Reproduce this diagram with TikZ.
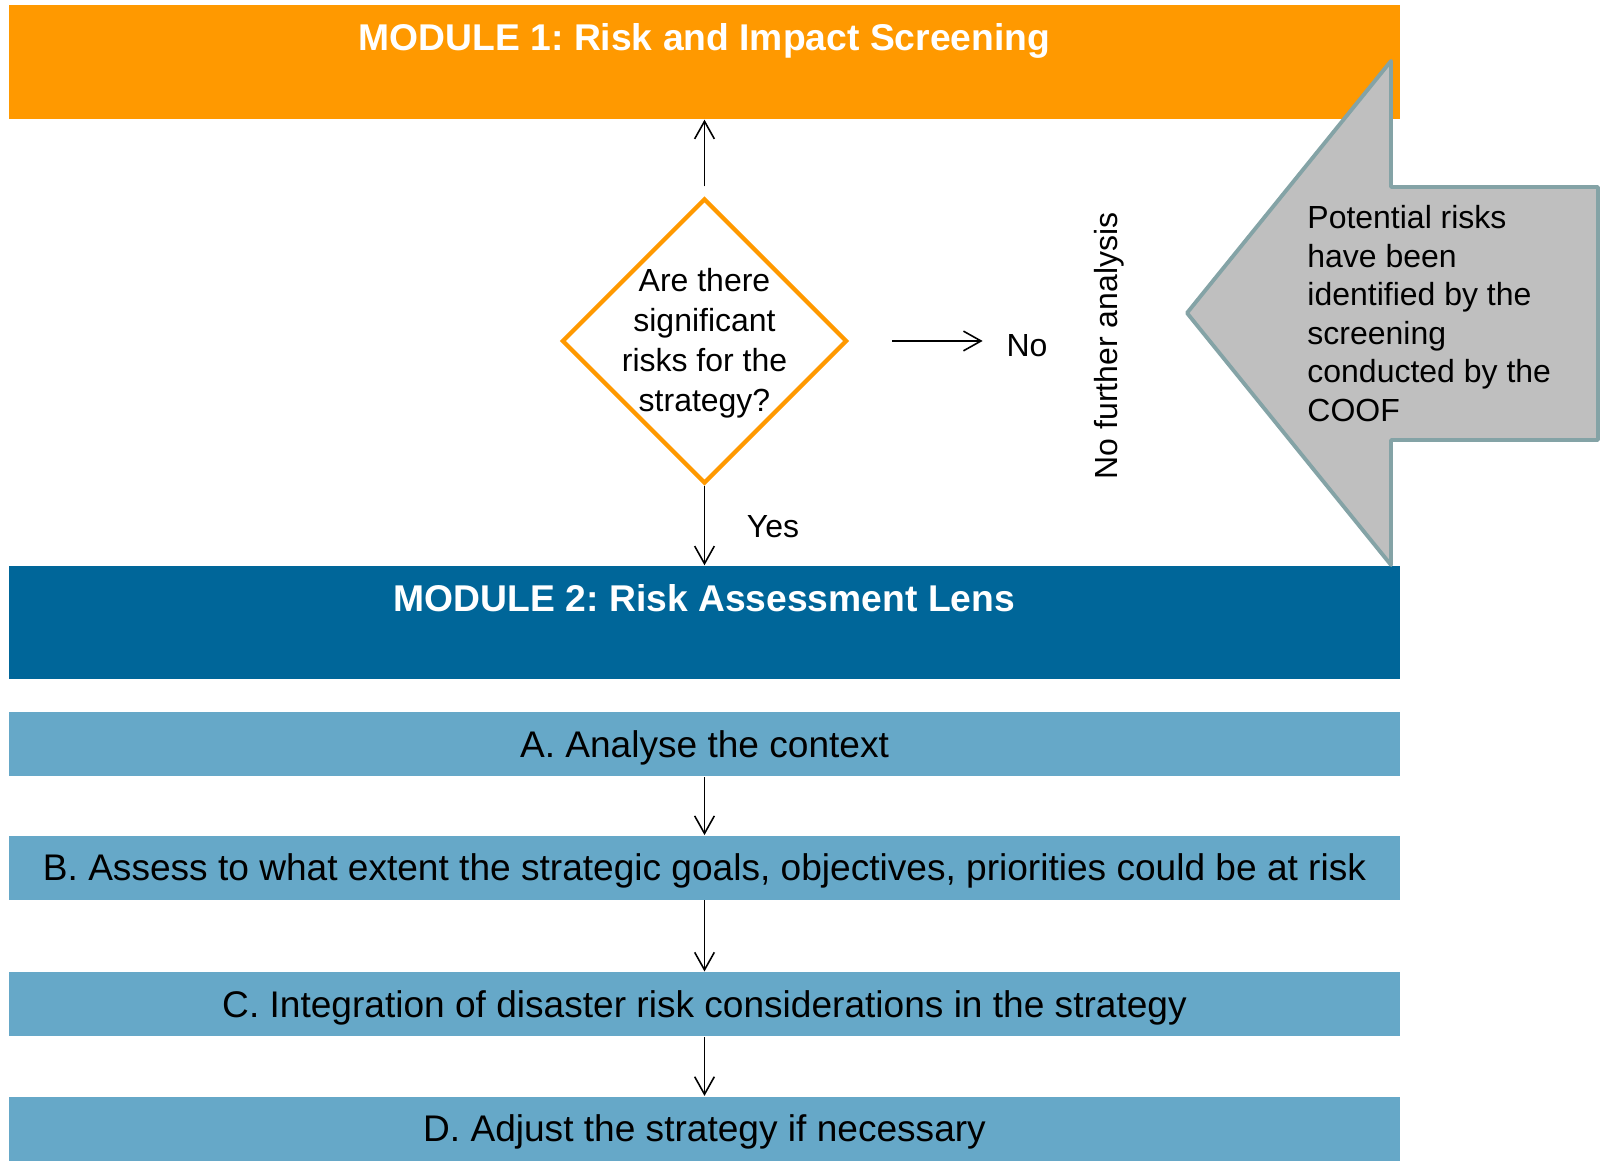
\documentclass[tikz,border=0pt]{standalone}
\usepackage{fontspec}
\setmainfont{Liberation Sans}
\usepackage{tikz}
\usetikzlibrary{arrows.meta,shapes.geometric,positioning}
\frenchspacing
\definecolor{modorange}{RGB}{255,153,0}
\definecolor{modblue}{RGB}{0,102,153}
\definecolor{steplight}{RGB}{102,168,200}
\definecolor{notegray}{RGB}{191,191,191}
\definecolor{noteedge}{RGB}{132,163,166}
\tikzset{
  module/.style={rectangle,minimum width=13.91cm,minimum height=1.14cm,inner sep=0pt},
  modtitle/.style={text=white,anchor=base,font=\fontsize{10.6}{12.7}\selectfont\bfseries},
  stepbar/.style={rectangle,fill=steplight,minimum width=13.91cm,minimum height=0.64cm,inner sep=0pt,text height=7.5pt,text depth=0pt,font=\fontsize{10.55}{12.6}\selectfont},
  decision/.style={diamond,aspect=1,draw=modorange,fill=white,line width=1.2pt,minimum width=2.85cm,minimum height=2.85cm,inner sep=0pt},
  small/.style={font=\fontsize{9.1}{11.4}\selectfont},
  arr/.style={line width=0.45pt,-{Straight Barb[length=5pt,width=5.6pt]}}
}
\begin{document}
\begin{tikzpicture}
\useasboundingbox (0,0) rectangle (16.04,11.61);
\node[module,fill=modorange] (m1) at (7.045,10.99) {};
\node[modtitle] (t1) at ([yshift=-0.46cm]m1.north) {MODULE 1: Risk and Impact Screening};
\node[module,fill=modblue,minimum height=1.13cm] (m2) at (7.045,5.385) {};
\node[modtitle] (t2) at ([yshift=-0.46cm]m2.north) {MODULE 2: Risk Assessment Lens};
\node[stepbar,below=0.32cm of m2] (a) {A. Analyse the context};
\node[stepbar,below=0.58cm of a] (b) {B. Assess to what extent the strategic goals, objectives, priorities could be at risk};
\node[stepbar,below=0.71cm of b] (c) {C. Integration of disaster risk considerations in the strategy};
\node[stepbar,below=0.59cm of c] (d) {D. Adjust the strategy if necessary};
\draw[arr] (a) -- (b);
\draw[arr] (b) -- (c);
\draw[arr] (c) -- (d);
\node[decision] (q) at (7.045,8.20) {};
\node[small,align=center] (qtext) at ([yshift=-0.02cm]q) {Are there\\significant\\risks for the\\strategy?};
\draw[arr] ([yshift=0.1cm]q.north) -- (q.north |- m1.south);
\draw[arr] (q.south) -- (q.south |- m2.north);
\node[small] (yes) at (7.73,6.34) {Yes};
\node[small] (no) at (10.27,8.15) {No};
\draw[arr] ([xshift=0.43cm]q.east) -- ([xshift=-0.115cm]no.west |- q.east);
\node[small,rotate=90] (nfa) at (11.09,8.15) {No further analysis};
\draw[fill=notegray,draw=noteedge,line width=1.1pt,line join=round] (11.87,8.48) coordinate (tip) -- (13.91,11.00) -- (13.91,9.74) -- (15.98,9.74) -- (15.98,7.21) -- (13.91,7.21) -- (13.91,5.96) -- cycle;
\node[align=left,anchor=west,font=\fontsize{9.1}{10.95}\selectfont] (coof) at (12.95,8.475) {Potential risks\\have been\\identified by the\\screening\\conducted by the\\COOF};
\end{tikzpicture}
\end{document}
